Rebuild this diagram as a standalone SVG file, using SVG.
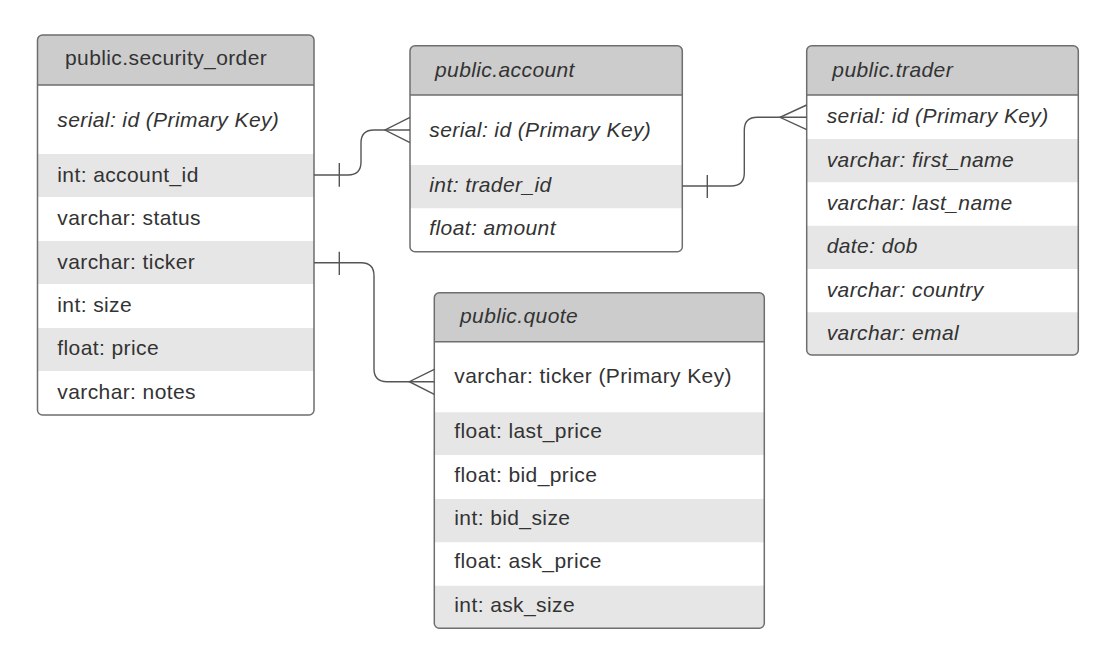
<svg xmlns="http://www.w3.org/2000/svg" width="1120" height="668" viewBox="0 0 1120 668">
<style>
.bg{fill:#ffffff}
.hdr{fill:#cccccc}
.alt{fill:#e6e6e6}
.frame{fill:none;stroke:#6e6e6e;stroke-width:1.5}
.sep{stroke:#6e6e6e;stroke-width:1.5}
text{font-family:"Liberation Sans",Arial,sans-serif;font-size:21px;letter-spacing:0.4px;fill:#333333}
.it{font-style:italic}
.conn path{fill:none;stroke:#555555;stroke-width:1.4}
</style>
<defs>
<clipPath id="c-so"><rect x="37.5" y="35" width="276.5" height="380" rx="5"/></clipPath>
<clipPath id="c-ac"><rect x="410" y="45.7" width="272.3" height="206" rx="5"/></clipPath>
<clipPath id="c-tr"><rect x="806.7" y="45.7" width="271.6" height="309.3" rx="5"/></clipPath>
<clipPath id="c-qu"><rect x="434.3" y="292.7" width="330" height="335.6" rx="5"/></clipPath>
</defs>
<rect width="1120" height="668" fill="#ffffff"/>

<g id="security_order">
<g clip-path="url(#c-so)">
<rect class="bg" x="37.5" y="35" width="276.5" height="380"/>
<rect class="hdr" x="37.5" y="35" width="276.5" height="50"/>
<rect class="alt" x="37.5" y="154" width="276.5" height="43"/>
<rect class="alt" x="37.5" y="241" width="276.5" height="43"/>
<rect class="alt" x="37.5" y="328" width="276.5" height="43"/>
</g>
<line class="sep" x1="37.5" y1="85" x2="314" y2="85"/>
<rect class="frame" x="37.5" y="35" width="276.5" height="380" rx="5"/>
<text x="65" y="65">public.security_order</text>
<text class="it" x="57.3" y="127">serial: id (Primary Key)</text>
<text x="57.3" y="182">int: account_id</text>
<text x="57.3" y="225">varchar: status</text>
<text x="57.3" y="268.5">varchar: ticker</text>
<text x="57.3" y="311.7">int: size</text>
<text x="57.3" y="355">float: price</text>
<text x="57.3" y="398.5">varchar: notes</text>
</g>

<g id="account">
<g clip-path="url(#c-ac)">
<rect class="bg" x="410" y="45.7" width="272.3" height="206"/>
<rect class="hdr" x="410" y="45.7" width="272.3" height="49.3"/>
<rect class="alt" x="410" y="165" width="272.3" height="43.3"/>
</g>
<line class="sep" x1="410" y1="95" x2="682.3" y2="95"/>
<rect class="frame" x="410" y="45.7" width="272.3" height="206" rx="5"/>
<text class="it" x="435" y="77">public.account</text>
<text class="it" x="429.3" y="137">serial: id (Primary Key)</text>
<text class="it" x="429.3" y="192">int: trader_id</text>
<text class="it" x="429.3" y="235">float: amount</text>
</g>

<g id="trader">
<g clip-path="url(#c-tr)">
<rect class="bg" x="806.7" y="45.7" width="271.6" height="309.3"/>
<rect class="hdr" x="806.7" y="45.7" width="271.6" height="49.3"/>
<rect class="alt" x="806.7" y="139" width="271.6" height="43.3"/>
<rect class="alt" x="806.7" y="225.7" width="271.6" height="43.3"/>
<rect class="alt" x="806.7" y="312.3" width="271.6" height="42.7"/>
</g>
<line class="sep" x1="806.7" y1="95" x2="1078.3" y2="95"/>
<rect class="frame" x="806.7" y="45.7" width="271.6" height="309.3" rx="5"/>
<text class="it" x="832.3" y="77">public.trader</text>
<text class="it" x="826.7" y="123.3">serial: id (Primary Key)</text>
<text class="it" x="826.7" y="166.7">varchar: first_name</text>
<text class="it" x="826.7" y="210">varchar: last_name</text>
<text class="it" x="826.7" y="253.3">date: dob</text>
<text class="it" x="826.7" y="296.7">varchar: country</text>
<text class="it" x="826.7" y="340">varchar: emal</text>
</g>

<g id="quote">
<g clip-path="url(#c-qu)">
<rect class="bg" x="434.3" y="292.7" width="330" height="335.6"/>
<rect class="hdr" x="434.3" y="292.7" width="330" height="49"/>
<rect class="alt" x="434.3" y="412.3" width="330" height="42.7"/>
<rect class="alt" x="434.3" y="499" width="330" height="43.3"/>
<rect class="alt" x="434.3" y="585.7" width="330" height="42.6"/>
</g>
<line class="sep" x1="434.3" y1="341.7" x2="764.3" y2="341.7"/>
<rect class="frame" x="434.3" y="292.7" width="330" height="335.6" rx="5"/>
<text class="it" x="460" y="323.3">public.quote</text>
<text x="454.3" y="383.3">varchar: ticker (Primary Key)</text>
<text x="454.3" y="438.3">float: last_price</text>
<text x="454.3" y="481.7">float: bid_price</text>
<text x="454.3" y="525">int: bid_size</text>
<text x="454.3" y="568.3">float: ask_price</text>
<text x="454.3" y="611.7">int: ask_size</text>
</g>

<g id="connectors" class="conn">
<path d="M314,175 H348 Q361,175 361,162 V143 Q361,130 374,130 H410"/>
<path d="M410,117.3 L385,130 L410,142.7"/>
<path d="M339.3,163 V186.7"/>
<path d="M682.3,186 H731 Q744.3,186 744.3,173 V130.3 Q744.3,117.3 757.3,117.3 H806.7"/>
<path d="M806.7,105 L780,117.3 L806.7,129.6"/>
<path d="M707.3,175 V198"/>
<path d="M314,262.7 H361 Q374,262.7 374,275.7 V368.7 Q374,381.7 387,381.7 H434.3"/>
<path d="M434.3,369.3 L409.3,381.7 L434.3,394.3"/>
<path d="M339.3,251.7 V275"/>
</g>
</svg>
